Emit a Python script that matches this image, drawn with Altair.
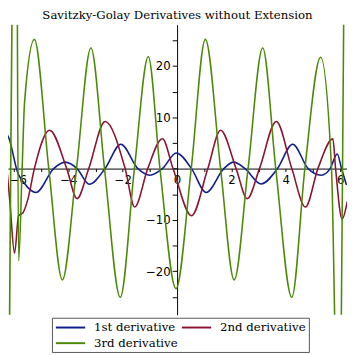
import altair as alt
import pandas as pd

series_names = ["1st derivative", "2nd derivative", "3rd derivative"]
colors = ["#0f1f8c", "#8b1430", "#4c8a06"]

x1 = [-6.28, -6.15, -6.0, -5.91, -5.61, -5.19, -4.54, -4.12, -3.68, -3.23, -2.65, -2.07,
      -1.44, -1.0, -0.54, -0.03, 0.53, 1.07, 1.72, 2.08, 2.5, 3.09, 3.69, 4.25, 4.82,
      5.30, 5.63, 5.89, 6.05, 6.23]
y1 = [6.9, 5.4, 2.0, 0.0, -2.9, -4.65, 0.0, 1.26, 0.0, -3.05, 0.0, 4.76,
      0.0, -1.28, 0.0, 3.05, 0.0, -4.65, 0.0, 1.26, 0.0, -3.0, 0.0, 4.76, 0.0,
      -1.28, 0.0, 2.86, 0.0, -3.2]

x2 = [-6.29, -6.15, -5.98, -5.83, -5.67, -5.49, -5.25, -4.69, -4.06, -3.68, -3.25, -2.65,
      -1.91, -1.56, -1.08, -0.54, -0.15, 0.53, 1.13, 1.60, 2.17, 2.58, 3.03, 3.65,
      4.22, 4.72, 5.18, 5.73, 5.83, 6.07, 6.26]
y2 = [1.6, -6.5, -16.5, -9.2, -8.6, -6.0, 0.0, 7.49, 0.0, -5.85, 0.0, 9.2,
      0.0, -7.5, 0.0, 5.83, 0.0, -9.2, 0.0, 7.49, 0.0, -5.85, 0.0, 9.2,
      0.0, -7.5, 0.0, 5.8, 0.0, -9.85, -6.4]

x3 = [-6.30, -5.92, -5.83, -5.70, -5.61, -5.25, -4.72, -4.22, -3.70, -3.17, -2.67, -2.09,
      -1.57, -1.06, -0.63, -0.04, 0.52, 1.04, 1.60, 2.10, 2.61, 3.15, 3.63, 4.22,
      4.70, 5.28, 5.68, 5.80, 5.93, 6.04, 6.13, 6.28]
y3 = [-140.0, 75.0, -18.0, 0.0, 13.0, 25.2, 0.0, -21.7, 0.0, 23.5, 0.0, -25.1,
      0.0, 21.8, 0.0, -23.4, 0.0, 25.2, 0.0, -21.7, 0.0, 23.5, 0.0, -25.1,
      0.0, 21.7, 0.0, -30.0, -70.0, -30.0, 30.0, 110.0]

x_ticks = list(range(-6, 7))
y_ticks = list(range(-25, 30, 5))

rows = []
for name, xs, ys in zip(series_names, [x1, x2, x3], [y1, y2, y3]):
    for i, (a, b) in enumerate(zip(xs, ys)):
        rows.append({"x": a, "y": b, "series": name, "order": i})
df = pd.DataFrame(rows)

W, H = 347, 297
x_dom = [-6.22, 6.25]
y_dom = [-28.51, 28.06]
x0_px = (0 - x_dom[0]) / (x_dom[1] - x_dom[0]) * W
y0_px = (y_dom[1] - 0) / (y_dom[1] - y_dom[0]) * H

nb = "\u00a0"
x_label_expr = ("datum.value == 0 ? '0" + nb * 3 + "' : "
                "(datum.value % 2 == 0 ? datum.label : '')")
y_label_expr = "(datum.value % 10 == 0 && datum.value != 0) ? datum.label : ''"

common_axis = dict(grid=False, title=None, domainColor="black", tickColor="black",
                   labelColor="black", labelFont="DejaVu Sans", labelFontSize=12,
                   labelFlush=False, labelOverlap=False, domainWidth=1, tickWidth=1)

chart = alt.Chart(df).mark_line(clip=True, strokeWidth=1.6, interpolate="monotone").encode(
    x=alt.X("x:Q", scale=alt.Scale(domain=x_dom, nice=False, zero=False),
            axis=alt.Axis(orient="bottom", offset=-(H - y0_px), values=x_ticks,
                          labelExpr=x_label_expr, tickSize=3, labelPadding=3,
                          labelOffset={"condition": {"test": "datum.value == -6", "value": 4},
                                       "value": 0},
                          **common_axis)),
    y=alt.Y("y:Q", scale=alt.Scale(domain=y_dom, nice=False, zero=False),
            axis=alt.Axis(orient="left", offset=-x0_px, values=y_ticks,
                          labelExpr=y_label_expr, tickSize=5, labelPadding=2, **common_axis)),
    color=alt.Color("series:N", scale=alt.Scale(domain=series_names, range=colors),
                    legend=alt.Legend(orient="none", legendX=45, legendY=300, columns=2,
                                      direction="horizontal",
                                      title=None, symbolType="M-1,0L4,0", symbolSize=144,
                                      symbolStrokeWidth=2, labelFont="DejaVu Serif",
                                      labelFontSize=12, labelColor="black", labelOffset=26,
                                      columnPadding=0, rowPadding=3, padding=3,
                                      strokeColor="#555555", fillColor="white",
                                      labelLimit=300)),
    order="order:Q",
).properties(
    width=W, height=H,
    title=alt.Title("Savitzky-Golay Derivatives without Extension", font="DejaVu Serif",
                    fontSize=12, fontWeight="normal", color="black", offset=3,
                    anchor="middle"),
    padding={"top": 13, "bottom": 35, "left": 0, "right": 0},
    autosize=alt.AutoSizeParams(type="none"),
).configure_view(stroke=None)

chart.save("out.html", embed_options={"renderer": "svg", "actions": False})
